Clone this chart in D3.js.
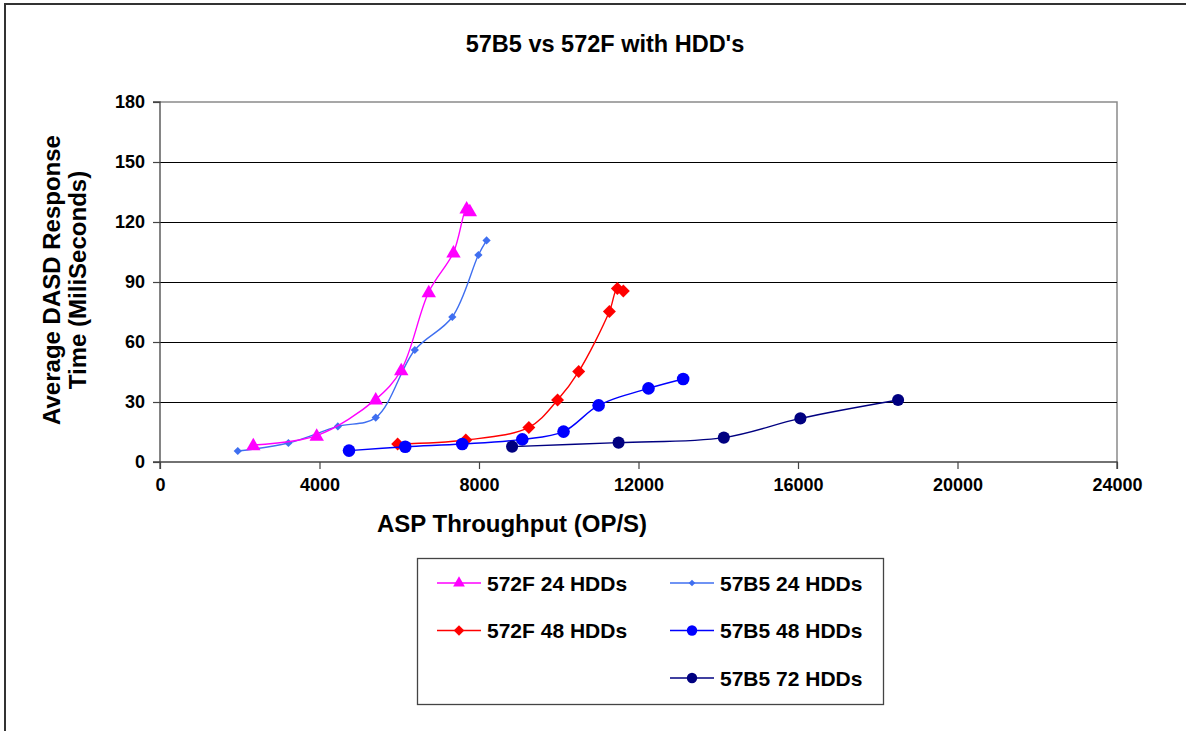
<!DOCTYPE html>
<html>
<head>
<meta charset="utf-8">
<script src="https://cdnjs.cloudflare.com/ajax/libs/d3/7.8.5/d3.min.js"></script>
<style>
  html, body { margin: 0; padding: 0; background: #fff; }
  svg { display: block; }
  text { font-family: "Liberation Sans", Arial, sans-serif; font-weight: bold; fill: #000; }
</style>
</head>
<body>
<svg id="chart" width="1186" height="731"></svg>
<script>
// ---- Data ----
const chartTitle = "57B5 vs 572F with HDD's";
const xAxisTitle = "ASP Throughput (OP/S)";
const yAxisTitleLines = ["Average DASD Response", "Time (MiliSeconds)"];
const xTicks = [0, 4000, 8000, 12000, 16000, 20000, 24000];
const yTicks = [0, 30, 60, 90, 120, 150, 180];

const seriesNames = ["572F 24 HDDs", "57B5 24 HDDs", "572F 48 HDDs", "57B5 48 HDDs", "57B5 72 HDDs"];

const s572F24_x = [2340, 3930, 5410, 6050, 6740, 7360, 7690, 7770];
const s572F24_y = [8.5, 13.2, 31.3, 46, 85, 104.8, 126.8, 125.5];

const s57B524_x = [1950, 3220, 4460, 5410, 6390, 7330, 7985, 8190];
const s57B524_y = [5.5, 9.5, 17.8, 22.2, 56, 72.5, 103.5, 110.8];

const s572F48_x = [5960, 7670, 9250, 9970, 10500, 11270, 11470, 11620];
const s572F48_y = [9, 11, 17.3, 31, 45.2, 75.2, 86.8, 85.5];

const s57B548_x = [4740, 6150, 7580, 9085, 10120, 11000, 12250, 13120];
const s57B548_y = [5.7, 7.6, 9, 11.3, 15.2, 28.3, 36.8, 41.5];

const s57B572_x = [8830, 11500, 14140, 16060, 18510];
const s57B572_y = [7.7, 9.7, 12.2, 21.8, 31];

// ---- Series styling (by name) ----
const styles = {
  "572F 24 HDDs": { color: "#FF00FF", shape: "triangle", size: 90, legendSize: 60, width: 1.4 },
  "57B5 24 HDDs": { color: "#3F6FF0", shape: "diamond", size: 34, legendSize: 22, width: 1.4 },
  "572F 48 HDDs": { color: "#FF0000", shape: "diamond", size: 84, legendSize: 55, width: 1.4 },
  "57B5 48 HDDs": { color: "#0000FF", shape: "circle", size: 125, legendSize: 85, width: 1.4 },
  "57B5 72 HDDs": { color: "#000080", shape: "circle", size: 115, legendSize: 85, width: 1.4 }
};

const seriesData = {
  "572F 24 HDDs": d3.zip(s572F24_x, s572F24_y),
  "57B5 24 HDDs": d3.zip(s57B524_x, s57B524_y),
  "572F 48 HDDs": d3.zip(s572F48_x, s572F48_y),
  "57B5 48 HDDs": d3.zip(s57B548_x, s57B548_y),
  "57B5 72 HDDs": d3.zip(s57B572_x, s57B572_y)
};

// drawing order
const drawOrder = ["57B5 24 HDDs", "572F 24 HDDs", "572F 48 HDDs", "57B5 48 HDDs", "57B5 72 HDDs"];

// ---- Layout ----
const svg = d3.select("#chart");
const plot = { left: 160, right: 1117, top: 102, bottom: 462 };

const x = d3.scaleLinear().domain([0, 24000]).range([plot.left, plot.right]);
const y = d3.scaleLinear().domain([0, 180]).range([plot.bottom, plot.top]);

// outer chart border
svg.append("rect")
  .attr("x", 5).attr("y", 4).attr("width", 1200).attr("height", 800)
  .attr("fill", "#fff").attr("stroke", "#333").attr("stroke-width", 2);

// title
svg.append("text")
  .attr("x", 605).attr("y", 52)
  .attr("text-anchor", "middle")
  .style("font-size", "23.5px")
  .text(chartTitle);

// plot area border (top & right, gray)
svg.append("path")
  .attr("d", `M${plot.left},${plot.top}H${plot.right}V${plot.bottom}`)
  .attr("fill", "none").attr("stroke", "#8a8a8a").attr("stroke-width", 1.5);

// gridlines
svg.append("g").selectAll("line")
  .data(yTicks.filter(d => d > 0 && d < 180))
  .join("line")
  .attr("x1", plot.left).attr("x2", plot.right)
  .attr("y1", d => Math.round(y(d)) + 0.5).attr("y2", d => Math.round(y(d)) + 0.5)
  .attr("stroke", "#000").attr("stroke-width", 1);

// axes
const xAxis = d3.axisBottom(x).tickValues(xTicks).tickSize(7).tickPadding(9).tickFormat(d3.format("d"));
const yAxis = d3.axisLeft(y).tickValues(yTicks).tickSize(7).tickPadding(8).tickFormat(d3.format("d"));

const gx = svg.append("g").attr("transform", `translate(0,${plot.bottom})`).call(xAxis);
const gy = svg.append("g").attr("transform", `translate(${plot.left},0)`).call(yAxis);
[gx, gy].forEach(g => {
  g.select(".domain").attr("stroke", "#444").attr("stroke-width", 1.3);
  g.selectAll(".tick line").attr("stroke", "#444").attr("stroke-width", 1.2);
  g.selectAll(".tick text").style("font-size", "18px").style("font-family", "Liberation Sans, Arial, sans-serif").style("font-weight", "bold").attr("fill", "#000");
});
gx.select(".domain").attr("d", `M${plot.left},7V0H${plot.right}V7`);
gy.select(".domain").attr("d", `M-7,${plot.bottom}H0V${plot.top}H-7`);

// axis titles
svg.append("text")
  .attr("x", 512).attr("y", 532)
  .attr("text-anchor", "middle")
  .style("font-size", "24px")
  .text(xAxisTitle);

const yTitle = svg.append("text")
  .attr("transform", "translate(60,280) rotate(-90)")
  .attr("text-anchor", "middle")
  .style("font-size", "24px");
yAxisTitleLines.forEach((t, i) => {
  yTitle.append("tspan").attr("x", 0).attr("dy", i === 0 ? 0 : 26).text(t);
});

// symbol helper
function symbolPath(shape, size) {
  if (shape === "triangle") return d3.symbol(d3.symbolTriangle, size)();
  if (shape === "circle") return d3.symbol(d3.symbolCircle, size)();
  // diamond: square rotated 45deg
  const h = Math.sqrt(size * 2) / 2;
  return `M0,${-h}L${h},0L0,${h}L${-h},0Z`;
}

// lines and markers
const line = d3.line()
  .x(d => x(d[0])).y(d => y(d[1]))
  .curve(d3.curveCatmullRom.alpha(0.5));

const seriesG = svg.append("g");
drawOrder.forEach(name => {
  const st = styles[name];
  const data = seriesData[name];
  const g = seriesG.append("g");
  g.append("path")
    .attr("d", line(data))
    .attr("fill", "none")
    .attr("stroke", st.color)
    .attr("stroke-width", st.width);
  g.selectAll("path.marker")
    .data(data)
    .join("path")
    .attr("class", "marker")
    .attr("transform", d => `translate(${x(d[0])},${y(d[1]) + (st.shape === "triangle" ? 1 : 0)})`)
    .attr("d", symbolPath(st.shape, st.size))
    .attr("fill", st.color);
});

// legend
const legend = { x: 417, y: 558, w: 466, h: 146 };
svg.append("rect")
  .attr("x", legend.x + 0.5).attr("y", legend.y + 0.5)
  .attr("width", legend.w).attr("height", legend.h)
  .attr("fill", "#fff").attr("stroke", "#444").attr("stroke-width", 1.3);

seriesNames.forEach(name => {
  const st = styles[name];
  const col = name.startsWith("572F") ? 0 : 1;
  const hdd = parseInt(name.split(" ")[1], 10);
  const row = hdd / 24 - 1;
  const lx = legend.x + 20 + col * 233;
  const ly = legend.y + 25 + row * 47.5;
  const g = svg.append("g").attr("transform", `translate(${lx},${ly})`);
  g.append("line").attr("x1", 0).attr("x2", 44).attr("y1", 0).attr("y2", 0)
    .attr("stroke", st.color).attr("stroke-width", 1.4);
  g.append("path").attr("transform", `translate(22,${st.shape === "triangle" ? 0 : 0})`)
    .attr("d", symbolPath(st.shape, st.legendSize)).attr("fill", st.color);
  g.append("text").attr("x", 50).attr("y", 7.5)
    .style("font-size", "21px")
    .text(name);
});
</script>
</body>
</html>
